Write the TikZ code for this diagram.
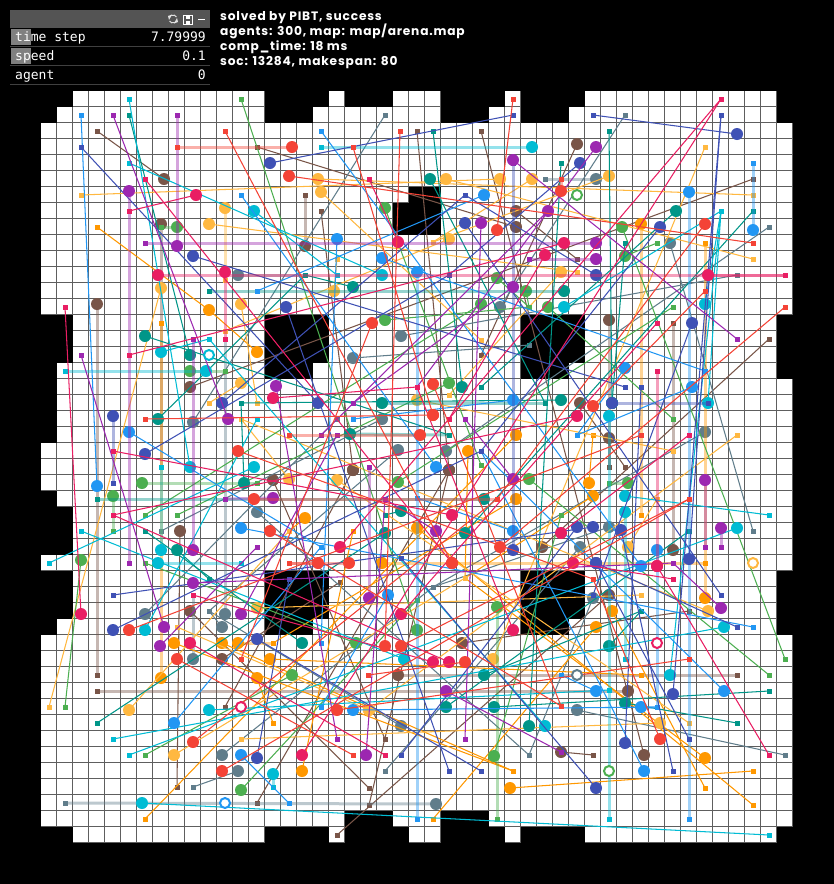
\documentclass[tikz,border=0pt]{standalone}
\usepackage{fontspec}
\setmainfont{Poppins}
\newfontfamily\pmono{DejaVu Sans Mono}
\definecolor{cRed}{HTML}{F44336}
\definecolor{cPink}{HTML}{E91E63}
\definecolor{cPurple}{HTML}{9C27B0}
\definecolor{cIndigo}{HTML}{3F51B5}
\definecolor{cBlue}{HTML}{2196F3}
\definecolor{cCyan}{HTML}{00BCD4}
\definecolor{cTeal}{HTML}{009688}
\definecolor{cGreen}{HTML}{4CAF50}
\definecolor{cAmber}{HTML}{FFB840}
\definecolor{cOrange}{HTML}{FF9800}
\definecolor{cBrown}{HTML}{795548}
\definecolor{cGrey}{HTML}{607D8B}
\definecolor{cGridline}{HTML}{5E5E5E}
\tikzset{
  thinpath/.style={line width=1.05pt},
  palepath/.style={line width=3pt,opacity=.42},
  blockcell/.style={fill=black},
  ringmark/.style={line width=2pt,fill=white},
  paneltext/.style={font=\pmono\fontsize{13}{13}\selectfont,text=white,inner sep=0pt},
  infotext/.style={font=\fontsize{12.2}{16}\selectfont\bfseries\addfontfeature{LetterSpace=6.6},text=white,inner sep=0pt,anchor=base west}
}
\newcommand{\AGroup}[2]{%
  \foreach \xa/\ya/\xg/\yg in {#2}{%
    \pgfmathsetmacro{\ddx}{abs(\xa-\xg)}%
    \pgfmathsetmacro{\ddy}{abs(\ya-\yg)}%
    \pgfmathsetmacro{\mindd}{min(\ddx,\ddy)}%
    \ifdim\mindd pt<1.01pt
      \draw[#1,palepath] (\xa,\ya) -- (\xg,\yg);
    \else
      \draw[#1,thinpath] (\xa,\ya) -- (\xg,\yg);
    \fi
    \fill[#1] ({\xg-2.5},{\yg-2.5}) rectangle ({\xg+2.5},{\yg+2.5});
    \fill[#1] (\xa,\ya) circle (6);
  }%
}
\begin{document}
\begin{tikzpicture}[x=1pt,y=-1pt]
\useasboundingbox (0,0) rectangle (834,884);
\fill[black] (0,0) rectangle (834,884);
% map
\fill[white] (41,91) rectangle (793,843);
\foreach \i in {1,...,47}{
  \draw[cGridline,line width=1.1pt] ({40.5+16*\i},91) -- ({40.5+16*\i},843);
  \draw[cGridline,line width=1.1pt] (41,{90.5+16*\i}) -- (793,{90.5+16*\i});
}
% blocked cells
\foreach \xa/\ya/\xb/\yb in {
 41/91/73/107, 265/91/329/107, 345/91/393/107, 441/91/505/107, 521/91/585/107, 777/91/793/107,
 41/107/57/123, 265/107/313/123, 441/107/489/123, 521/107/569/123, 777/107/793/123,
 41/315/73/363, 41/363/57/443, 41/491/57/507, 41/507/73/555, 41/571/73/619, 41/619/57/635, 41/827/73/843,
 777/315/793/379, 777/571/793/635,
 345/811/393/827, 441/811/489/827,
 265/827/329/843, 345/827/409/843, 441/827/505/843, 521/827/585/843, 777/827/793/843,
 409/187/441/203, 393/203/441/235,
 265/315/329/363, 265/363/313/379,
 521/315/585/363, 521/363/569/379,
 265/571/329/619, 265/619/313/635,
 521/571/585/619, 521/619/569/635}{
  \fill[blockcell] (\xa,\ya) rectangle (\xb,\yb);
}
\AGroup{cBrown}{164/179/97/131,577/144/481/355,161/224/161/467,97/304/97/675,305/246/305/195,516/211/577/259,516/227/257/147,190/387/753/179,180/531/177/787,273/480/385/739,190/611/369/788,222/659/340/582,353/470/225/707,353/470/321/211,449/470/417/131,449/470/369/805,449/470/257/803,542/547/769/339,462/643/689/611,398/675/737/675,561/752/593/755,644/755/481/131,609/320/609/467,580/403/625/467,609/438/609/467,673/550/673/323,609/595/337/835,628/691/97/691}
\AGroup{cGrey}{596/179/545/179,670/243/753/531,238/275/305/275,500/307/625/115,401/336/737/275,353/358/529/345,193/422/385/115,257/512/529/755,145/614/337/419,225/614/225/339,222/627/209/611,193/659/193/595,238/771/193/787,222/755/433/587,382/419/161/531,398/450/209/611,446/451/769/227,401/726/209/611,436/804/65/803,609/527/433/587,705/432/433/587,580/547/385/771,593/598/529/755,577/710/785/755}
\AGroup{cOrange}{641/224/641/515,209/310/97/227,257/352/209/310,174/643/513/771,222/643/513/771,238/643/273/643,161/678/161/323,270/659/641/675,257/678/273/723,302/771/353/531,516/435/145/819,468/451/465/578,305/518/289/531,516/499/273/643,417/528/753/805,382/563/705/563,589/483/593/435,593/496/465/578,705/598/705/243,612/611/705/788,596/627/433/819,705/758/465/578,510/788/753/771}
\AGroup{cAmber}{318/179/753/195,446/179/753/259,321/192/481/340,500/179/81/195,532/179/433/242,609/176/433/242,225/208/225/280,209/224/577/272,161/288/49/707,241/304/257/403,241/383/209/403,129/710/289/531,174/755/465/578,257/608/641/595,334/291/337/259,449/239/225/331,561/272/449/395,417/400/673/451,289/479/241/419,337/480/689/723,369/710/737/435,369/710/177/627,493/659/705/147,628/547/657/499,708/611/241/419,660/723/241/739}
\AGroup{cGreen}{622/227/785/659,625/256/657/243,177/227/161/227,385/208/481/465,497/278/529/307,526/291/529/307,481/304/145/515,548/307/673/419,385/320/529/307,190/371/225/371,142/483/257/483,113/496/113/531,81/560/65/707,292/675/145/755,497/607/497/819,494/756/561/515,449/383/177/515,529/479/769/675,398/482/673/307,356/643/145/563,417/630/241/99,628/483/609/483,241/790/417/600}
\AGroup{cTeal}{430/179/545/403,676/211/481/387,145/336/449/435,190/355/129/115,564/291/209/291,353/287/305/275,158/419/305/275,244/483/241/403,177/550/209/579,302/643/145/531,382/403/545/403,561/400/241/403,462/387/433/131,350/434/449/435,484/499/97/499,401/511/385/515,385/533/97/723,465/533/753/211,484/675/641/611,446/707/689/531,494/707/769/691,529/726/561/163,609/646/641/611,625/703/737/723,612/403/625/243,612/403/609/131}
\AGroup{cCyan}{532/147/321/147,254/211/337/275,161/352/209/339,206/371/65/371,190/467/129/99,161/550/161/467,158/563/241/563,254/467/49/563,145/630/257/419,209/710/609/690,273/774/273/787,142/803/769/835,382/275/129/163,564/307/721/211,404/659/81/531,545/726/209/339,705/304/721/211,708/403/721/211,609/416/609/819,625/496/769/515,625/512/625/659,737/528/129/755,724/627/113/739,670/675/721/211}
\AGroup{cBlue}{689/192/689/819,692/387/577/435,753/230/753/163,484/195/257/291,337/239/321/643,382/258/705/371,417/272/417/819,97/486/81/115,129/432/321/547,241/528/753/627,174/723/321/547,241/755/289/803,513/400/353/419,436/467/241/195,513/531/417/498,388/595/321/707,353/710/657/707,625/368/577/435,657/550/657/707,641/566/321/131,596/691/561/675,641/707/657/707,724/691/481/451,644/771/481/451}
\AGroup{cIndigo}{270/163/513/115,737/134/593/115,580/163/449/275,660/227/481/451,596/275/465/195,193/256/625/387,465/223/721/595,286/307/449/771,113/416/113/483,145/454/449/275,222/403/465/195,113/630/481/451,257/639/481/771,257/758/289/579,318/403/81/147,513/550/513/163,692/323/593/595,577/527/401/755,593/527/113/595,621/530/673/771,689/559/721/115,596/563/737/627,596/563/689/739,673/694/721/115,625/743/641/387,596/788/401/558,612/403/708/403}
\AGroup{cPurple}{129/191/129/563,177/246/177/115,228/419/113/115,193/550/193/339,164/627/81/355,160/646/257/547,193/583/673/563,241/614/337/435,366/755/385/499,276/386/337/739,513/160/737/339,596/147/417/387,596/243/145/243,596/259/529/259,481/223/465/739,548/211/321/435,513/287/353/403,513/479/465/419,436/531/385/499,369/598/369/467,446/691/561/752,705/480/705/547,721/528/721/547,721/608/673/563,273/498/225/499}
\AGroup{cPink}{196/195/129/211,158/275/785/275,225/272/225/339,398/242/369/179,545/255/449/419,564/243/129/355,708/275/785/275,273/398/417/387,81/614/65/307,190/643/385/755,302/755/721/99,452/515/113/451,340/547/721/99,452/563/145/179,561/533/689/435,401/614/657/323,433/662/193/595,449/662/113/515,513/630/417/387,577/416/113/515,573/563/673/579,657/566/657/371,657/566/769/755}
\AGroup{cRed}{292/147/177/147,289/176/753/243,497/230/513/99,452/563/225/131,433/415/353/147,561/191/561/179,433/384/561/706,433/415/145/419,420/435/289/435,318/563/289/563,349/563/289/563,254/499/497/499,372/323/241/659,238/451/593/579,270/531/561/706,129/630/641/435,177/659/353/755,193/742/497/499,222/771/689/499,660/739/593/579,337/710/689/659,593/406/705/291,705/224/497/499,500/547/785/307,385/646/400/131,401/646/689/499,465/662/368/675}
% reached goals
\foreach \cc/\xa/\ya in {cPink/241/707,cPink/657/643,cGreen/577/195,cGreen/609/771,cAmber/753/563,cBlue/225/803,cGrey/577/675,cCyan/209/355}{
  \draw[\cc,ringmark] (\xa,\ya) circle (5);
}
% panel
\fill[black] (0,0) rectangle (834,90);
\fill[black!67] (10,10) rectangle (210,28);
\draw[white!88!black,line width=1pt] ([shift={(173,19)}]20:4) arc (20:150:4);
\draw[white!88!black,line width=1pt] ([shift={(173,19)}]200:4) arc (200:330:4);
\fill[white!88!black] (168,16) -- (172,14.5) -- (169,20) -- cycle;
\fill[white!88!black] (178,22) -- (174,23.5) -- (177,18) -- cycle;
\draw[white,line width=1pt] (183.5,15.5) rectangle (192,24);
\fill[white] (185.5,15.5) rectangle (190,18.5);
\fill[white] (186,20.5) rectangle (190,24);
\draw[white,line width=1pt] (198,19) -- (205,19);
\fill[black!50] (11,29) rectangle (31,45);
\fill[black!50] (11,48) rectangle (31,64);
\foreach \yy in {46.5,65.5,84.5}{ \draw[black!75,line width=1pt] (10,\yy) -- (210,\yy); }
\node[paneltext,anchor=base west] (tl) at (15,41) {time step};
\node[paneltext,anchor=base east] (tv) at (206,41) {7.79999};
\node[paneltext,anchor=base west] (sl) at (15,60) {speed};
\node[paneltext,anchor=base east] (sv) at (206,60) {0.1};
\node[paneltext,anchor=base west] (al) at (15,79) {agent};
\node[paneltext,anchor=base east] (av) at (206,79) {0};
\node[infotext] (i1) at (220,20) {solved by PIBT, success};
\node[infotext] (i2) at (220,35) {agents: 300, map: map/arena.map};
\node[infotext] (i3) at (220,50) {comp\_time: 18 ms};
\node[infotext] (i4) at (220,65) {soc: 13284, makespan: 80};
\end{tikzpicture}
\end{document}
